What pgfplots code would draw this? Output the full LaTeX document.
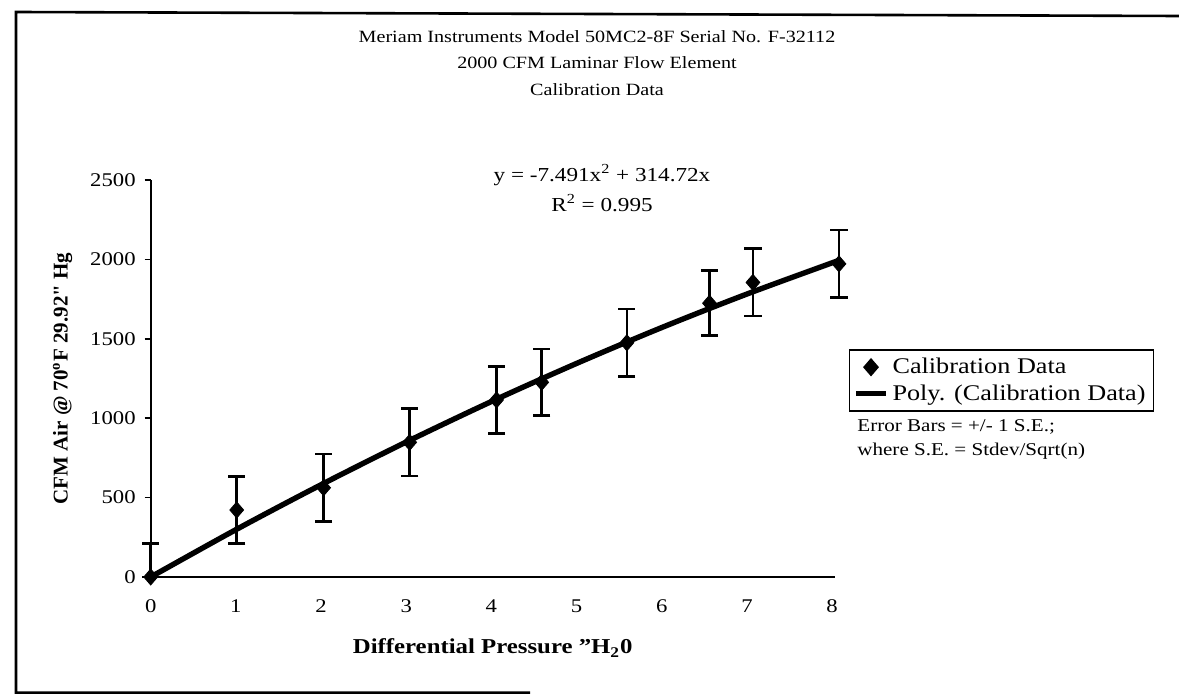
\documentclass[border=0pt]{standalone}
\usepackage{fontspec}
\setmainfont{Liberation Serif}[FakeStretch=1.17]
\newfontfamily\vfont{Liberation Serif}
\usepackage{pgfplots}
\pgfplotsset{compat=1.18}
\begin{document}
\begin{tikzpicture}[x=1pt,y=1pt]
\useasboundingbox (0,0) rectangle (589.5,-347.5);
\draw[line width=1.3pt] (265,-346.3) -- (8,-346.3) -- (8,-6) -- (589.5,-8);
\begin{axis}[
  at={(75.35pt,-288.5pt)}, anchor=south west,
  scale only axis, width=342pt, height=198.5pt,
  xmin=0, xmax=8.03, ymin=0, ymax=2500,
  axis x line=bottom, axis y line=left,
  axis line style={-, line width=1pt},
  xtick={0,1,...,8}, ytick={0,500,...,2500},
  xtick style={draw=none},
  ytick style={line width=0.8pt, black},
  tick align=outside, major tick length=3pt,
  clip=false,
  scaled y ticks=false,
  /pgf/number format/1000 sep={},
  /pgf/number format/assume math mode=true,
  tick label style={font=\fontsize{9.7}{11}\selectfont},
  xticklabel style={anchor=center, yshift=-11.5pt},
  yticklabel style={anchor=east, xshift=-1pt},
  xlabel={Differential Pressure "H\textsubscript{2}0},
  xlabel style={at={(axis description cs:0.5,-0.179)}, anchor=center, font=\fontsize{10.6}{12}\selectfont\bfseries},
  ylabel={\vfont\bfseries CFM Air @ 70\textsuperscript{o}F 29.92" Hg},
  ylabel style={at={(axis description cs:-0.1288,0.5)}, anchor=center, font=\fontsize{10.5}{12}\selectfont},
  legend style={at={(axis description cs:1.0205,0.574)}, anchor=north west, draw=black, line width=0.8pt,
    font=\fontsize{11.2}{13}\selectfont, cells={anchor=west}, inner xsep=2pt, inner ysep=2pt, row sep=0pt},
]
\addplot+[black, only marks, mark=diamond*, mark size=4pt, mark options={fill=black, draw=black, xscale=1.15},
  legend image code/.code={\draw[black, mark=diamond*, mark size=4pt, mark options={fill=black, xscale=1.15}] plot coordinates {(7.5pt,0pt)};},
  error bars/.cd, y dir=both, y explicit,
  error bar style={line width=1.3pt, black},
  error mark options={rotate=90, mark size=4.3pt, line width=1.3pt, black}]
coordinates {
(0,0) += (0,212) -= (0,0)
(1.01,422) +- (0,212)
(2.03,562) +- (0,213)
(3.04,848) +- (0,212)
(4.06,1115) +- (0,210)
(4.59,1226) +- (0,210)
(5.59,1475) +- (0,213)
(6.56,1724) +- (0,205)
(7.07,1855) +- (0,212)
(8.08,1972) +- (0,213)
};
\addlegendentry{Calibration Data}
\addplot[black, line width=2.7pt, smooth,
  legend image code/.code={\draw[line width=2.5pt] (0pt,0pt) -- (15pt,0pt);}]
coordinates {
(0,0) (1,298) (2,581) (3,850) (4,1105) (5,1345) (6,1571) (7,1782) (8.08,1994)
};
\addlegendentry{Poly. (Calibration Data)}
\end{axis}
\node[font=\fontsize{8.6}{13.3}\selectfont, align=center] at (298.5,-31.5)
  {Meriam Instruments Model 50MC2-8F Serial No. F-32112\\2000 CFM Laminar Flow Element\\Calibration Data};
\node[font=\fontsize{9.9}{15}\selectfont, align=center] at (301,-94)
  {y = -7.491x\textsuperscript{2} + 314.72x\\R\textsuperscript{2} = 0.995};
\node[font=\fontsize{9}{12}\selectfont, align=left, anchor=west, inner sep=0pt] at (428.5,-219.5)
  {Error Bars = +/- 1 S.E.;\\where S.E. = Stdev/Sqrt(n)};
\end{tikzpicture}
\end{document}
